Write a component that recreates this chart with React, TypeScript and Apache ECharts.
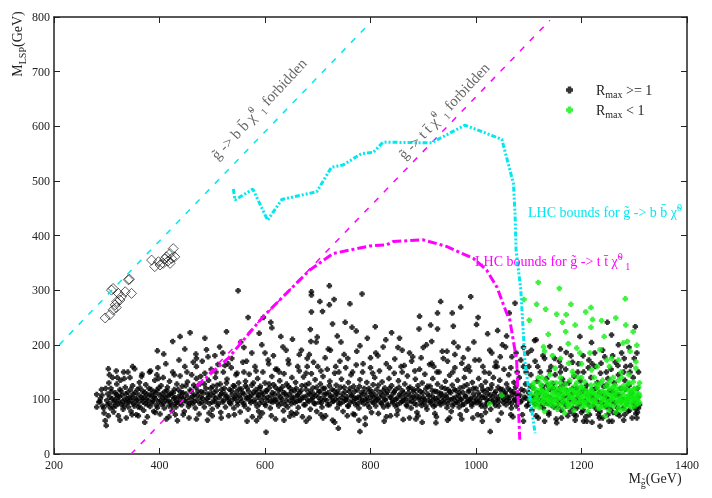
import React, { useEffect, useRef } from "react";
import * as echarts from "echarts";

const xTicks = [200, 400, 600, 800, 1000, 1200, 1400];
const yTicks = [0, 100, 200, 300, 400, 500, 600, 700, 800];

const blackBand = [
[281,109],[281,86],[285,95],[288,102],[290,118],[292,88],[295,75],[300,98],[302,110],[303,156],[304,130],[305,92],[307,84],[308,120],[310,101],[311,140],[313,77],[314,95],[316,112],[317,88],[319,128],[320,104],[322,70],[323,97],[325,118],[326,135],[328,90],[329,108],[331,82],[332,150],[334,100],[335,122],[337,66],[338,94],[340,113],[341,86],[343,104],[344,140],[346,78],[347,97],[349,125],[350,110],[352,88],[353,156],[355,101],[356,72],[358,118],[359,93],[361,108],[362,131],[364,85],[365,99],[367,146],[368,115],[370,80],[371,104],[373,92],[374,127],[376,109],[377,68],[379,98],[380,120],[382,87],[383,152],[385,106],[386,94],[388,113],[389,78],[391,135],[392,101],[394,89],[395,117],[397,158],[398,96],[400,108],[401,73],[403,125],[404,91],[406,103],[407,140],[409,84],[410,114],[412,98],[413,64],[415,122],[416,107],[418,88],[419,133],[421,95],[422,111],[424,79],[425,150],[427,102],[428,118],[430,92],[431,86],[433,128],[436,105],[437,97],[439,143],[440,113],
[442,90],[443,124],[445,102],[447,78],[448,160],[450,110],[452,95],[453,132],[455,87],[458,117],[460,100],[461,145],[463,92],[465,126],[466,108],[468,84],[470,138],[471,99],[473,115],[475,73],[476,128],[478,104],[480,94],[481,170],[483,112],[485,86],[486,148],[488,120],[490,101],[491,62],[493,135],[495,92],[496,110],[498,155],[500,82],[501,124],[503,106],[505,96],[506,140],[508,116],[510,88],[511,164],[513,103],[515,128],[516,76],[518,111],[520,95],[521,150],[523,120],[525,86],[526,105],[528,137],[530,99],[531,70],[533,118],[535,92],[536,158],[538,109],[540,125],[541,84],[543,102],[545,145],[546,114],[548,90],[550,130],[551,107],[553,77],[555,119],[556,96],[558,168],[560,110],[561,88],[563,133],[565,101],[566,121],[568,82],[570,146],[571,105],[573,94],[575,126],[576,68],[578,113],[580,99],[581,160],[583,118],[585,87],[586,138],[588,107],[590,92],[591,124],[593,112],[595,75],[596,150],[598,103],[600,130],[601,89],[603,115],[605,98],[606,172],[608,121],[610,84],[611,106],[613,142],[615,95],[616,127],[618,110],[620,64],[621,100],[623,155],[625,117],[626,88],[628,134],[630,104],[631,93],[633,123],[635,79],[636,147],[638,111],[640,97],[641,128],[643,86],[645,165],[646,108],[648,120],[650,92],[651,140],[653,101],[655,72],[656,116],[658,131],[660,96],[661,106],[663,85],[665,152],[666,113],[668,99],[670,125],[671,68],[673,141],[675,104],[676,90],[678,118],[680,175],[681,98],[683,129],[685,110],[686,82],[688,147],[690,103],[691,121],[693,93],[695,136],[696,107],[698,78],[700,160],
[702,114],[703,95],[705,128],[707,101],[708,86],[710,142],[712,109],[713,120],[715,70],[717,98],[718,155],[720,112],[722,90],[723,133],[725,104],[727,118],[728,62],[730,97],[732,148],[733,108],[735,126],[737,84],[738,115],[740,100],[742,170],[743,92],[745,137],[747,110],[748,78],[750,122],[752,99],[753,158],[755,105],[757,88],[758,131],[760,114],[762,95],[763,145],[765,108],[767,73],[768,124],[770,101],[772,90],[773,163],[775,117],[777,104],[778,84],[780,136],[782,97],[783,112],[785,150],[787,92],[788,120],[790,66],[792,106],[793,131],[795,98],[797,115],[798,85],[800,176],[802,109],[803,95],[805,127],[807,103],[808,140],[810,88],[812,118],[813,100],[815,74],[817,152],[818,112],[820,94],[822,132],[823,107],[825,86],[827,121],[828,99],[830,165],[832,114],[833,91],[835,138],[837,104],[838,70],[840,125],[842,97],[843,111],[845,148],[847,88],[848,118],[850,102],[852,80],[853,134],[855,109],[857,94],[858,160],[860,116],[862,99],[865,128],[867,106],[868,90],[870,143],[872,112],[873,97],[875,122],[877,84],[878,170],[880,104],[882,118],[883,93],[885,137],[887,108],[888,76],[890,125],[892,100],[893,155],[895,114],[897,89],[898,130],[900,103],[902,95],[903,146],[905,119],[907,82],[908,110],[910,98],[912,164],[913,124],[915,92],[917,106],[918,138],[920,87],[922,115],[923,101],[925,68],[927,128],[928,97],[930,150],[932,111],[933,90],[935,122],[937,104],[938,175],[940,94],[942,133],[943,108],[945,85],[947,118],[948,99],[950,144],[952,112],[953,78],[955,126],[957,102],[958,92],[960,158],[962,116],[963,96],[965,135],[967,107],[968,86],[970,121],[972,100],[973,166],[975,113],[977,91],[978,140],[980,105],[982,80],[983,127],[985,97],[987,117],[988,152],[990,102],[992,88],[993,131],[995,110],[997,95],[998,172],[1000,120],[1002,99],[1003,72],[1005,138],[1007,107],[1008,92],[1010,125],[1012,104],[1013,160],[1015,114],[1017,86],[1018,132],[1020,100],[1022,118],[1023,94],[1025,148],[1027,108],[1028,82],[1030,127],[1032,97],[1033,140],[1035,111],[1037,89],[1038,168],[1040,104],[1042,122],[1043,96],[1045,135],[1047,108],[1048,75],[1050,118],[1052,100],[1053,155],[1055,113],[1057,90],[1058,128],[1060,104],[1062,145],[1063,96],[1065,116],[1067,84],[1068,178],[1070,109],[1072,131],[1073,98],[1075,122],[1077,88],[1078,150],[1080,105],
[1082,140],[1084,95],[1086,118],[1088,72],[1090,160],[1092,104],[1094,128],[1096,88],[1098,185],[1100,112],[1102,96],[1104,145],[1106,80],[1108,121],[1110,103],[1112,170],[1114,92],[1116,133],[1118,66],[1120,110],[1122,150],[1124,98],[1126,124],[1128,84],[1130,175],[1132,107],[1134,138],[1136,93],[1138,72],[1140,118],[1142,160],[1144,100],[1146,129],[1148,86],[1150,145],[1152,64],[1154,113],[1156,96],[1158,170],[1160,122],[1162,80],[1164,137],[1166,104],[1168,92],[1170,155],[1172,116],[1174,70],[1176,130],[1178,99],[1180,180],[1182,111],[1184,84],[1186,142],[1188,62],[1190,120],[1192,102],[1194,165],[1196,90],[1198,134],[1200,76],[1202,115],[1204,150],[1206,97],[1208,68],[1210,126],[1212,108],[1214,172],[1216,88],[1218,140],[1220,58],[1222,118],[1224,100],[1226,160],[1228,82],[1230,131],[1232,72],[1234,112],[1236,148],[1238,94],[1240,66],[1242,124],[1244,178],[1246,104],[1248,86],[1250,138],[1252,60],[1254,116],[1256,155],[1258,96],[1260,76],[1262,130],[1264,168],[1266,108],[1268,85],[1270,145],[1272,70],[1274,120],[1276,185],[1278,100],[1280,62],[1282,135],[1284,160],[1286,92],[1288,78],[1290,125],[1292,150],[1294,106],[1296,66],[1298,140],[1300,175],[1302,98],[1304,84],[1306,120],[1308,150],[1310,90],[1301,84],[1308,84],[1235,51],[1267,74],[1153,57],[1204,60]
];

const blackCore = [
[287,96],[291,108],[294,84],[298,120],[301,90],[306,104],[309,114],[312,86],[315,99],[318,109],[321,92],[324,105],[327,115],[330,96],[333,88],[336,110],[339,101],[342,95],[345,118],[348,104],[351,92],[354,112],[357,99],[360,86],[363,121],[366,104],[369,95],[372,113],[375,100],[378,90],[381,108],[384,118],[387,97],[390,104],[393,112],[396,85],[399,121],[402,98],[405,110],[408,93],[411,104],[414,116],[417,97],[420,108],[423,89],[426,112],[429,103],[432,96],[435,118],[438,92],[441,105],[444,112],[447,98],[450,125],[454,104],[457,92],[460,115],[463,106],[466,96],[469,122],[472,108],[476,93],[479,114],[482,102],[485,128],[488,96],[491,110],[494,104],[497,120],[500,95],[503,113],[506,101],[509,126],[512,92],[515,108],[518,118],[521,98],[524,110],[527,130],[530,104],[533,94],[536,116],[539,100],[542,124],[545,106],[548,96],[551,119],[554,102],[557,112],[560,92],[563,125],[566,104],[569,115],[572,98],[575,108],[578,130],[581,94],[584,112],[587,104],[590,120],[593,98],[596,110],[599,92],[602,116],[605,104],[608,128],[611,96],[614,112],[617,100],[620,122],[623,94],[626,108],[629,118],[632,100],[635,112],[638,90],[641,106],[644,124],[647,98],[650,114],[653,104],[656,94],[659,120],[662,108],[665,98],[668,116],[671,104],[674,90],[677,126],[680,108],[683,96],[686,115],[689,100],[692,110],[695,92],[698,122],[701,104],[704,114],[707,94],[710,120],[713,100],[716,110],[719,90],[722,125],[725,106],[728,96],[731,116],[734,100],[737,110],[740,92],[743,122],[746,104],[749,96],[752,114],[755,100],[758,88],[761,120],[764,106],[767,96],[770,115],[773,102],[776,92],[779,124],[782,106],[785,98],[788,112],[791,100],[794,90],[797,120],[800,104],[803,114],[806,94],[809,108],[812,98],[815,126],[818,104],[821,92],[824,116],[827,100],[830,110],[833,88],[836,120],[839,104],[842,94],[845,114],[848,100],[851,90],[854,122],[857,106],[860,96],[863,112],[866,100],[869,88],[872,120],[875,106],[878,96],[881,114],[884,102],[887,90],[890,118],[893,104],[896,94],[899,112],[902,100],[905,88],[908,124],[911,106],[914,96],[917,116],[920,100],[923,90],[926,114],[929,104],[932,94],[935,110],[938,98],[941,120],[944,104],[947,92],[950,114],[953,100],[956,88],[959,118],[962,104],[965,94],[968,112],[971,100],[974,90],[977,124],[980,106],[983,96],[986,114],[989,100],[992,92],[995,120],[998,104],[1001,94],[1004,112],[1007,98],[1010,88],[1013,118],[1016,104],[1019,92],[1022,110],[1025,98],[1028,120],[1031,104],[1034,94],[1037,114],[1040,100],[1043,88],[1046,118],[1049,104],[1052,94],[1055,110],[1058,98],[1061,120],[1064,104],[1067,92],[1070,114],[1073,100],[1076,110],[1079,95],[1083,108],[1087,98],[1091,116],[1095,102],[1099,90],[1103,124],[1107,104],[1111,92],[1115,112],[1119,100],[1123,88],[1127,118],[1131,94],[1135,126],[1139,104],[1143,90],[1147,120],[1151,100],[1155,86],[1159,112],[1163,96],[1167,128],[1171,88],[1175,106],[1179,78],[1183,120],[1187,96],[1191,84],[1195,110],[1199,96],[1203,80],[1207,118],[1211,92],[1215,72],[1219,106],[1223,88],[1227,120],[1231,96],[1235,78],[1239,110],[1243,90],[1247,126],[1251,100],[1255,82],[1259,114],[1263,94],[1267,74],[1271,108],[1275,96],[1279,84],[1283,118],[1287,100],[1291,80],[1295,112],[1299,92],[1303,74],[1307,104],
[320,140],[340,150],[360,70],[395,145],[430,72],[470,160],[500,70],[530,165],[560,150],[590,68],[620,155],[650,76],[680,160],[710,66],[740,150],[770,72],[800,158],[830,68],[860,150],[890,70],[920,160],[950,66],[980,155],[1010,70],[1040,160],[1070,68],[1100,160],[1130,60],[1160,150],[1190,70],[1220,165],[1250,72],[1280,150],[1305,66]
];

const blackSpread = [
[305,145],[318,152],[333,138],[349,160],[366,142],[381,150],[398,138],[412,165],[428,145],[437,172],[452,150],[464,168],[478,142],[492,178],[507,150],[514,196],[524,162],[537,175],[547,148],[554,205],[565,170],[575,185],[583,152],[594,200],[607,165],[616,180],[627,150],[634,196],[644,172],[652,210],[662,160],[669,190],[678,148],[684,182],[692,168],[699,214],[706,152],[714,176],[724,190],[734,160],[744,205],[757,175],[766,150],[774,188],[786,165],[794,212],[804,148],[814,180],[824,196],[836,158],[846,174],[852,195],[864,162],[874,185],[884,152],[896,176],[906,200],[916,166],[926,150],[936,188],[946,170],[956,150],[966,196],[976,176],[986,160],[996,205],[1006,172],[1016,150],[1026,190],[1036,160],[1046,178],[1056,196],[1066,158],[1076,185],[1085,172],[1095,150],[1105,190],[1117,160],[1127,180],[1139,152],[1149,175],[1161,160],[1171,186],[1183,168],[1193,150],[1203,180],[1213,158],[1225,185],[1237,166],[1247,150],[1259,180],[1269,162],[1281,175],[1293,162],[1305,185],
[303,70],[325,62],[348,72],[372,58],[392,76],[418,68],[445,72],[470,64],[494,75],[517,66],[542,72],[566,60],[588,78],[612,70],[636,62],[660,75],[684,66],[706,72],[732,58],[756,70],[778,62],[802,76],[826,60],[850,72],[874,66],[898,58],[922,74],[946,62],[970,72],[994,66],[1018,76],[1042,62],[1066,72],[1090,60],[1114,70],[1138,76],[1162,66],[1186,72],[1210,60],[1234,66],[1258,60],[1282,72],[1306,76]
];

const blackHigh = [
[549,299],[458,222],[439,215],[425,206],[527,224],[486,212],[396,189],[408,183],[448,192],[489,191],[469,183],[722,308],[688,297],[688,291],[704,279],[722,273],[731,283],[784,293],[761,275],[688,260],[709,261],[568,250],[597,250],[611,241],[613,231],[686,228],[728,238],[752,241],[765,232],[773,225],[809,233],[737,216],[589,221],[630,215],[687,206],[697,205],[829,209],[990,288],[933,279],[971,269],[927,258],[955,258],[893,252],[1004,250],[1063,258],[914,236],[927,229],[957,234],[1001,237],[1041,226],[892,229],[1022,220],[840,222],[916,206],[958,204],[855,212],[1058,216],[1074,276],[1111,208],[1302,233],[1197,215],[1257,218],[1249,241],[1114,209],[1140,197],[1219,204],[1270,200],
[520,185],[560,195],[640,190],[665,182],[720,192],[780,198],[810,185],[860,190],[900,195],[945,188],[985,192],[1030,185],[1050,200],[1090,195],[1160,192],[1240,190],[1290,195],[470,175],[505,180],[600,185],[750,182],[880,178],[960,182]
];

const blackLow = [
[602,40],[780,41],[739,47],[790,54],[647,69],[584,61],[678,60],[1027,41],[862,63],[924,57],[973,64],[1012,60],[886,64],[434,61],[456,66],[297,61],[299,52]
];

const greenBand = [
[1105,110],[1108,95],[1110,130],[1112,88],[1114,118],[1116,102],[1118,140],[1120,85],[1122,112],[1124,125],[1126,96],[1128,108],[1130,78],[1132,135],[1134,100],[1136,118],[1138,90],[1140,145],[1142,105],[1144,122],[1146,88],[1148,112],[1150,98],[1152,130],[1154,82],[1156,115],[1158,104],[1160,140],[1162,92],[1164,120],[1166,108],[1168,75],[1170,128],[1172,98],[1174,112],[1176,86],[1178,135],[1180,104],[1182,118],[1184,95],[1186,80],[1188,125],[1190,108],[1192,92],[1194,140],[1196,114],[1198,100],[1200,86],[1202,122],[1204,105],[1206,132],[1208,94],[1210,115],[1212,78],[1214,110],[1216,98],[1218,126],[1220,88],[1222,112],[1224,140],[1226,102],[1228,92],[1230,120],[1232,84],[1234,108],[1236,130],[1238,96],[1240,115],[1242,86],[1244,104],[1246,124],[1248,92],[1250,110],[1252,80],[1254,135],[1256,100],[1258,118],[1260,88],[1262,106],[1264,126],[1266,95],[1268,112],[1270,84],[1272,120],[1274,100],[1276,140],[1278,92],[1280,108],[1282,82],[1284,118],[1286,98],[1288,128],[1290,104],[1292,90],[1294,115],[1296,96],[1298,132],[1300,106],[1302,88],[1304,112],[1306,100],[1308,122],[1310,94],
[1106,125],[1111,100],[1117,92],[1121,130],[1127,115],[1131,104],[1137,128],[1141,94],[1147,102],[1151,120],[1157,90],[1161,110],[1167,97],[1171,118],[1177,104],[1181,90],[1187,112],[1191,130],[1197,96],[1201,108],[1207,88],[1211,104],[1217,115],[1221,98],[1227,128],[1231,104],[1237,90],[1241,100],[1247,112],[1251,96],[1257,105],[1261,124],[1267,102],[1271,90],[1277,112],[1281,100],[1287,92],[1291,116],[1297,104],[1301,96],[1305,100],[1309,110],[1295,85],[1285,88],[1275,80],[1265,76],[1255,90],[1245,70],[1235,84],[1225,110],[1215,88],[1205,95],[1195,120],[1185,100],[1175,92],[1165,84],[1155,100],[1145,112],[1135,108],[1125,102],
[1103,100],[1109,120],[1113,108],[1119,96],[1123,118],[1129,92],[1133,112],[1139,100],[1143,130],[1149,94],[1153,108],[1159,120],[1163,100],[1169,112],[1173,90],[1179,118],[1183,104],[1189,96],[1193,112],[1199,124],[1203,94],[1209,110],[1213,100],[1219,118],[1223,96],[1229,108],[1233,126],[1239,102],[1243,112],[1249,90],[1253,120],[1259,100],[1263,112],[1269,96],[1273,104],[1279,120],[1283,96],[1289,108],[1293,100],[1299,118],[1303,102],[1307,92],[1310,106],[1296,110],[1286,104],[1276,96],[1266,118],[1256,108],[1246,98],[1236,114],[1226,96],[1216,106],[1206,116],[1196,104],[1186,116],[1176,110],[1166,118],[1156,108],[1146,96],[1136,98],[1126,114],[1116,110],[1290,130],[1280,125],[1270,135],[1260,140],[1250,128],[1240,135],[1200,140],[1185,145],[1160,130],[1140,125],[1125,140],[1300,120],[1310,130]
];

const greenHigh = [
[1118,314],[1158,303],[1283,284],[1180,274],[1132,265],[1153,256],[1171,255],[1208,260],[1218,268],[1221,246],[1238,244],[1265,249],[1188,236],[1164,241],[1170,224],[1137,219],[1218,232],[1243,215],[1284,236],[1298,224],[1287,206],[1279,203],[1305,199],[1175,202],[1191,194],[1128,196],[1130,188],[1216,185],[1235,191],[1257,175],[1270,172],[1292,188],[1248,172],[1303,169],[1197,185],[1150,157],[1176,166],[1183,151],[1219,154],[1253,160],[1303,157],[1091,283],[1115,274],[1101,245],[1026,92],[1049,107],[1145,180],[1160,175],[1200,165],[1230,160],[1275,150],[1290,145]
];

const openDiamonds = [
[297,249],[306,255],[312,264],[316,273],[319,279],[312,303],[322,294],[328,288],[341,319],[347,294],[335,297],[343,320],[309,300],[318,268],[325,282],
[385,355],[391,343],[398,352],[407,349],[413,361],[420,367],[426,376],[429,361],[420,349],[401,346],[410,357],[416,353],[423,358]
];

const bbForbidden = [[210, 200], [800, 790]];
const ttForbidden = [[346, 0], [1140, 794]];

const bbBound = [[540,485],[543,465],[577,485],[605,428],[632,466],[698,480],[726,525],[748,529],[783,550],[805,552],[824,571],[881,570],[916,570],[979,602],[1049,576],[1071,495],[1074,440],[1076,373],[1085,300],[1093,166],[1102,105],[1112,38]];
const ttBound = [[470,124],[530,175],[597,252],[685,337],[729,367],[799,381],[831,383],[843,389],[900,392],[944,380],[995,358],[1020,337],[1040,305],[1058,258],[1064,246],[1077,172],[1083,26]];

const SERIF = "'Liberation Serif', 'DejaVu Serif', serif";
const CYAN = "#00e8f0";
const MAGENTA = "#ff00ff";
const GREEN = "#11ee11";
const BLOB = "path://M1,0H3V1H4V3H3V4H1V3H0V1H1Z";

export default function App() {
  const ref = useRef<HTMLDivElement>(null);
  useEffect(() => {
    if (!ref.current) return;
    const chart = echarts.init(ref.current, null, { renderer: "svg" });
    const axisColor = "#222";
    const fmt = (v: number) => String(v);
    const mkX = (pos: string, labels: boolean) => ({
      type: "value", position: pos, min: xTicks[0], max: xTicks[xTicks.length - 1], interval: 200,
      axisLine: { show: true, onZero: false, lineStyle: { color: axisColor, width: 1.5 } },
      axisTick: { show: true, inside: true, length: 6, lineStyle: { color: axisColor } },
      axisLabel: { show: labels, color: "#222", fontFamily: SERIF, fontSize: 12, margin: 5, formatter: fmt },
      splitLine: { show: false },
    });
    const mkY = (pos: string, labels: boolean) => ({
      type: "value", position: pos, min: yTicks[0], max: yTicks[yTicks.length - 1], interval: 100,
      axisLine: { show: true, onZero: false, lineStyle: { color: axisColor, width: 1.5 } },
      axisTick: { show: true, inside: true, length: 6, lineStyle: { color: axisColor } },
      axisLabel: { show: labels, color: "#222", fontFamily: SERIF, fontSize: 12, margin: 4, formatter: fmt },
      splitLine: { show: false },
    });
    const mkRich = (fill: string, size: number) => ({
      t: { fontFamily: SERIF, fontSize: size, lineHeight: size + 6, fill, color: fill },
      sub: { fontFamily: SERIF, fontSize: 10, lineHeight: 10, verticalAlign: "bottom", fill, color: fill },
      sup: { fontFamily: SERIF, fontSize: 10, lineHeight: 10, verticalAlign: "top", fill, color: fill },
    });
    chart.setOption({
      animation: false,
      grid: { left: 54, right: 25, top: 17, bottom: 44, containLabel: false },
      xAxis: [mkX("bottom", true), mkX("top", false)],
      yAxis: [mkY("left", true), mkY("right", false)],
      legend: {
        left: 561, top: 78, orient: "vertical", itemGap: 4, itemWidth: 7, itemHeight: 7,
        data: ["Rmax >= 1", "Rmax < 1"],
        formatter: (n: string) => (n === "Rmax >= 1" ? "{t|R}{sub|max}{t| >= 1}" : "{t|R}{sub|max}{t| < 1}"),
        textStyle: { color: "#222", padding: [0, 0, 0, 18], rich: {
          t: { fontFamily: SERIF, fontSize: 14, lineHeight: 18, color: "#222" },
          sub: { fontFamily: SERIF, fontSize: 10, lineHeight: 10, verticalAlign: "bottom", color: "#222" },
        } },
      },
      series: [
        { name: "Rmax >= 1", type: "scatter", symbol: BLOB, symbolSize: 5.5, itemStyle: { color: "#000" }, data: [...blackBand, ...blackCore, ...blackSpread, ...blackHigh, ...blackLow], z: 2 },
        { name: "Rmax < 1", type: "scatter", symbol: BLOB, symbolSize: 5.5, itemStyle: { color: GREEN }, data: [...greenBand, ...greenHigh], z: 3 },
        { name: "excluded", type: "scatter", symbol: "diamond", symbolSize: 10, itemStyle: { color: "rgba(255,255,255,0)", borderColor: "#000", borderWidth: 0.8 }, data: openDiamonds, z: 3 },
        { name: "bbForbidden", type: "line", data: bbForbidden, showSymbol: false, symbol: "none", lineStyle: { color: CYAN, width: 1.5, type: [6, 8] }, z: 4 },
        { name: "ttForbidden", type: "line", data: ttForbidden, showSymbol: false, symbol: "none", lineStyle: { color: MAGENTA, width: 1.5, type: [6, 8] }, z: 4 },
        { name: "bbBound", type: "line", data: bbBound, showSymbol: false, symbol: "none", lineStyle: { color: CYAN, width: 3, type: [5, 2, 2, 2, 2, 2] }, z: 5 },
        { name: "ttBound", type: "line", data: ttBound, showSymbol: false, symbol: "none", lineStyle: { color: MAGENTA, width: 3, type: [9, 3, 3, 3] }, z: 5 },
      ],
      graphic: [
        { type: "text", x: 259, y: 109, rotation: (47 * Math.PI) / 180, z: 10,
          style: { text: "{t|g\u0303 -> b b\u0304 \u03c7\u0303}{sup|0}{sub| 1}{t| forbidden}", rich: mkRich("#666", 15), align: "center", verticalAlign: "middle", fill: "#666" } },
        { type: "text", x: 444, y: 111, rotation: (47 * Math.PI) / 180, z: 10,
          style: { text: "{t|g\u0303 -> t t\u0304 \u03c7\u0303}{sup|0}{sub| 1}{t| forbidden}", rich: mkRich("#666", 15), align: "center", verticalAlign: "middle", fill: "#666" } },
        { type: "text", x: 528, y: 212, z: 10,
          style: { text: "{t|LHC bounds for g\u0303 -> b b\u0304 \u03c7\u0303}{sup|0}", rich: mkRich(CYAN, 14), align: "left", verticalAlign: "middle", fill: CYAN } },
        { type: "text", x: 475, y: 261, z: 10,
          style: { text: "{t|LHC bounds for g\u0303 -> t t\u0304 \u03c7\u0303}{sup|0}{sub| 1}", rich: mkRich(MAGENTA, 14), align: "left", verticalAlign: "middle", fill: MAGENTA } },
        { type: "text", x: 17, y: 44, rotation: Math.PI / 2, z: 10,
          style: { text: "{t|M}{sub|LSP}{t|(GeV)}", rich: mkRich("#222", 14), align: "center", verticalAlign: "middle", fill: "#222" } },
        { type: "text", x: 655, y: 478, z: 10,
          style: { text: "{t|M}{sub|g\u0303}{t|(GeV)}", rich: mkRich("#222", 14), align: "center", verticalAlign: "middle", fill: "#222" } },
      ],
    });
    return () => chart.dispose();
  }, []);
  return <div ref={ref} style={{ position: "fixed", left: 0, top: 0, width: 712, height: 498 }} />;
}
